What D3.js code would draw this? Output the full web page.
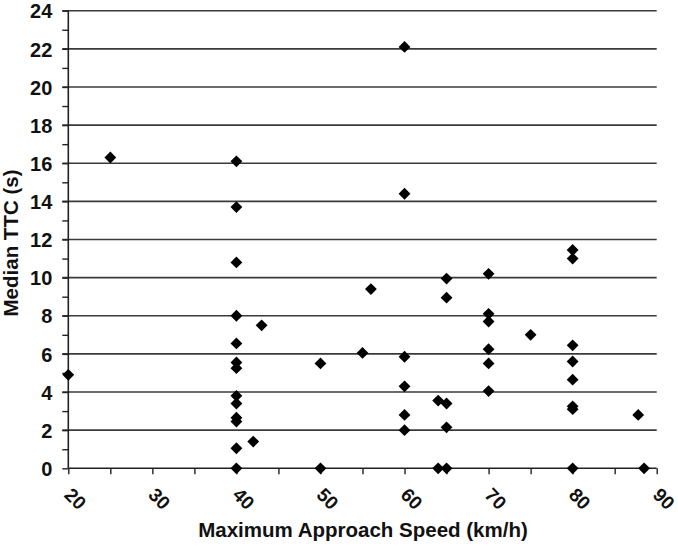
<!DOCTYPE html>
<html>
<head>
<meta charset="utf-8">
<script src="https://cdn.jsdelivr.net/npm/d3@7"></script>
<style>
  body { margin: 0; background: #fff; }
  svg { display: block; }
  text { font-family: "Liberation Sans", Arial, sans-serif; font-weight: bold; fill: #111; }
</style>
</head>
<body>
<svg id="chart" width="678" height="546"></svg>
<script>
// Data: maximum approach speed (km/h) and median TTC (s)
const speeds = [20, 25,
  40, 40, 40, 40, 40, 40, 40, 40, 40, 40, 40, 40, 40,
  42, 43, 50, 50, 55, 56,
  60, 60, 60, 60, 60, 60,
  64, 64,
  65, 65, 65, 65, 65,
  70, 70, 70, 70, 70, 70,
  75,
  80, 80, 80, 80, 80, 80, 80, 80,
  87.8, 88.5];
const ttcs = [4.9, 16.3,
  16.1, 13.7, 10.8, 8.0, 6.55, 5.55, 5.25, 3.8, 3.4, 2.65, 2.45, 1.05, 0,
  1.4, 7.5, 5.5, 0, 6.05, 9.4,
  22.1, 14.4, 5.85, 4.3, 2.8, 2.0,
  3.55, 0,
  9.95, 8.95, 3.4, 2.15, 0,
  10.2, 8.1, 7.7, 6.25, 5.5, 4.05,
  7.0,
  11.45, 11.0, 6.45, 5.6, 4.65, 3.25, 3.1, 0,
  2.8, 0];
const xTicks = [20, 30, 40, 50, 60, 70, 80, 90];
const yTicks = [0, 2, 4, 6, 8, 10, 12, 14, 16, 18, 20, 22, 24];
const xTitle = "Maximum Approach Speed (km/h)";
const yTitle = "Median TTC (s)";

const svg = d3.select("#chart");
const x = d3.scaleLinear().domain([20, 90]).range([68.3, 656.7]);
const y = d3.scaleLinear().domain([0, 24]).range([468.3, 10.7]);

// gridlines
svg.append("g")
  .selectAll("line")
  .data(yTicks.filter(d => d > 0))
  .join("line")
  .attr("x1", x(20) - 6).attr("x2", x(90))
  .attr("y1", d => y(d)).attr("y2", d => y(d))
  .attr("stroke", "#3a3a3a").attr("stroke-width", 1.6);

// y axis
const yAxis = d3.axisLeft(y).tickValues(d3.range(0, 25, 1)).tickSize(6).tickFormat(d => d % 2 === 0 ? d : "");
const gy = svg.append("g").attr("transform", `translate(${x(20)},0)`).call(yAxis);
gy.select(".domain").attr("stroke", "#222").attr("stroke-width", 1.6).attr("d", `M0,${y(24)}V${y(0)}`);
gy.selectAll(".tick line").attr("stroke", "#222").attr("stroke-width", 1.4);
gy.selectAll(".tick text").attr("x", -16).attr("dy", "0.36em")
  .style("font-size", "20px").style("font-family", "Liberation Sans, Arial, sans-serif").style("font-weight", "bold").attr("fill", "#111");

// x axis
const xAxis = d3.axisBottom(x).tickValues(d3.range(20, 91, 5)).tickSize(6).tickFormat(() => "");
const gx = svg.append("g").attr("transform", `translate(0,${y(0)})`).call(xAxis);
gx.select(".domain").attr("stroke", "#222").attr("stroke-width", 1.6).attr("d", `M${x(20)},0H${x(90)}`);
gx.selectAll(".tick line").attr("stroke", "#222").attr("stroke-width", 1.4);

svg.append("g")
  .selectAll("text")
  .data(xTicks)
  .join("text")
  .attr("transform", d => `translate(${x(d) - 5},${496}) rotate(45)`)
  .attr("text-anchor", "start")
  .style("font-size", "19px")
  .text(d => d);

// points
const diamond = d3.symbol().type(d3.symbolSquare).size(70);
svg.append("g")
  .selectAll("path")
  .data(speeds.map((s, i) => [s, ttcs[i]]))
  .join("path")
  .attr("d", diamond)
  .attr("transform", d => `translate(${x(d[0])},${y(d[1])}) rotate(45)`)
  .attr("fill", "#000");

// titles
svg.append("text")
  .attr("x", 363).attr("y", 537)
  .attr("text-anchor", "middle")
  .style("font-size", "20.5px")
  .text(xTitle);

svg.append("text")
  .attr("transform", `translate(17.5,243) rotate(-90)`)
  .attr("text-anchor", "middle")
  .style("font-size", "20.5px")
  .text(yTitle);
</script>
</body>
</html>
